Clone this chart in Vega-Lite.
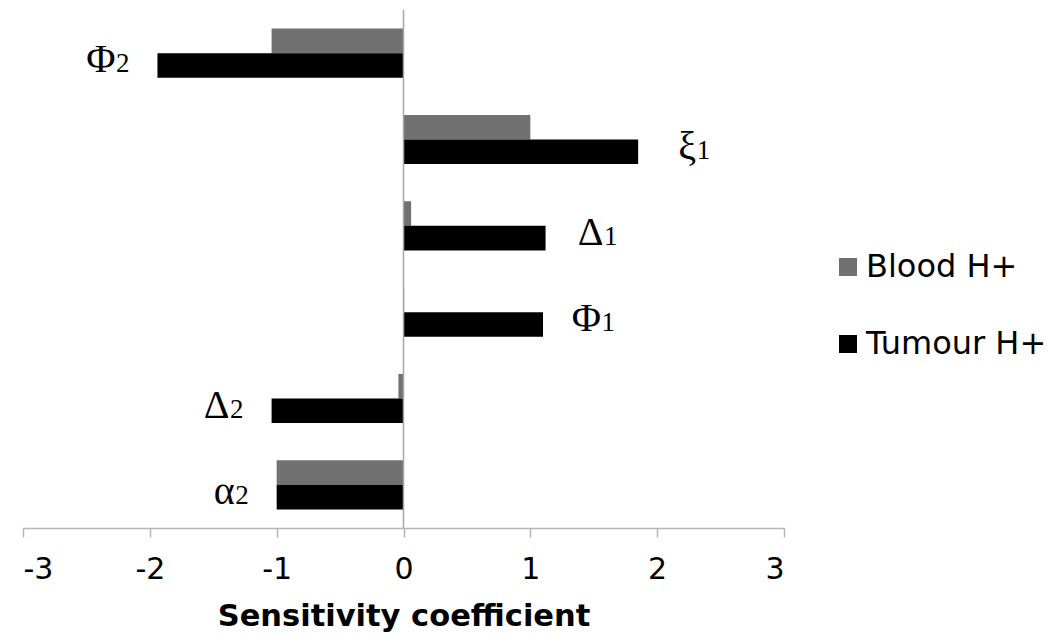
{
  "$schema": "https://vega.github.io/schema/vega-lite/v6.json",
  "width": 761,
  "height": 518,
  "autosize": {"type": "none"},
  "padding": {"left": 23, "top": 10, "right": 272, "bottom": 114},
  "background": "white",
  "config": {"view": {"stroke": null}, "font": "DejaVu Sans"},
  "data": {"values": [
    {"param": "Φ2", "sym": "Φ", "sub": "2", "series": "Blood H+", "value": -1.04},
    {"param": "Φ2", "sym": "Φ", "sub": "2", "series": "Tumour H+", "value": -1.94},
    {"param": "ξ1", "sym": "ξ", "sub": "1", "series": "Blood H+", "value": 1.0},
    {"param": "ξ1", "sym": "ξ", "sub": "1", "series": "Tumour H+", "value": 1.85},
    {"param": "Δ1", "sym": "Δ", "sub": "1", "series": "Blood H+", "value": 0.06},
    {"param": "Δ1", "sym": "Δ", "sub": "1", "series": "Tumour H+", "value": 1.12},
    {"param": "Φ1", "sym": "Φ", "sub": "1", "series": "Blood H+", "value": 0.005},
    {"param": "Φ1", "sym": "Φ", "sub": "1", "series": "Tumour H+", "value": 1.1},
    {"param": "Δ2", "sym": "Δ", "sub": "2", "series": "Blood H+", "value": -0.04},
    {"param": "Δ2", "sym": "Δ", "sub": "2", "series": "Tumour H+", "value": -1.04},
    {"param": "α2", "sym": "α", "sub": "2", "series": "Blood H+", "value": -1.0},
    {"param": "α2", "sym": "α", "sub": "2", "series": "Tumour H+", "value": -1.0}
  ]},
  "layer": [
    {
      "mark": {"type": "bar"},
      "encoding": {
        "y": {"field": "param", "type": "nominal", "sort": null, "scale": {"paddingInner": 0.43, "paddingOuter": 0.215}, "axis": null},
        "yOffset": {"field": "series", "type": "nominal", "sort": ["Blood H+", "Tumour H+"]},
        "x": {
          "field": "value", "type": "quantitative",
          "scale": {"domain": [-3, 3], "nice": false, "zero": false},
          "axis": {
            "values": [-3, -2, -1, 0, 1, 2, 3],
            "labelExpr": "datum.value < 0 ? '-' + abs(datum.value) : '' + datum.value",
            "title": "Sensitivity coefficient",
            "titleFontSize": 30.5, "titleFontWeight": "bold", "titleColor": "#000000", "titlePadding": 17,
            "labelFontSize": 30, "labelColor": "#000000", "labelPadding": 17,
            "domainColor": "#b5b5b5", "domainWidth": 1.5, "tickColor": "#b5b5b5", "tickWidth": 1.5, "tickSize": 9,
            "grid": false
          }
        },
        "color": {
          "field": "series", "type": "nominal",
          "scale": {"domain": ["Blood H+", "Tumour H+"], "range": ["#717171", "#000000"]},
          "legend": {
            "orient": "none", "legendX": 809, "legendY": 241, "title": null,
            "symbolType": "square", "symbolSize": 324, "symbolStrokeWidth": 0,
            "labelFontSize": 32, "labelColor": "#000000", "labelOffset": 2, "labelLimit": 400, "rowPadding": 45
          }
        }
      }
    },
    {
      "data": {"values": [{}]},
      "mark": {"type": "rule", "color": "#a6a6a6", "strokeWidth": 1.5},
      "encoding": {"x": {"datum": 0}}
    },
    {
      "transform": [{"filter": "datum.series === 'Tumour H+' && datum.value < 0"}],
      "mark": {"type": "text", "font": "Liberation Serif", "fontSize": 40, "align": "right", "baseline": "alphabetic", "dx": -42, "dy": 19, "color": "#000000"},
      "encoding": {
        "y": {"field": "param", "type": "nominal", "sort": null},
        "x": {"field": "value", "type": "quantitative"},
        "text": {"field": "sym"}
      }
    },
    {
      "transform": [{"filter": "datum.series === 'Tumour H+' && datum.value < 0"}],
      "mark": {"type": "text", "font": "Liberation Serif", "fontSize": 27, "align": "right", "baseline": "alphabetic", "dx": -28, "dy": 19, "color": "#000000"},
      "encoding": {
        "y": {"field": "param", "type": "nominal", "sort": null},
        "x": {"field": "value", "type": "quantitative"},
        "text": {"field": "sub"}
      }
    },
    {
      "transform": [{"filter": "datum.series === 'Tumour H+' && datum.value > 0"}],
      "mark": {"type": "text", "font": "Liberation Serif", "fontSize": 40, "align": "right", "baseline": "alphabetic", "dx": 58, "dy": 19, "color": "#000000"},
      "encoding": {
        "y": {"field": "param", "type": "nominal", "sort": null},
        "x": {"field": "value", "type": "quantitative"},
        "text": {"field": "sym"}
      }
    },
    {
      "transform": [{"filter": "datum.series === 'Tumour H+' && datum.value > 0"}],
      "mark": {"type": "text", "font": "Liberation Serif", "fontSize": 27, "align": "right", "baseline": "alphabetic", "dx": 72, "dy": 19, "color": "#000000"},
      "encoding": {
        "y": {"field": "param", "type": "nominal", "sort": null},
        "x": {"field": "value", "type": "quantitative"},
        "text": {"field": "sub"}
      }
    }
  ]
}
